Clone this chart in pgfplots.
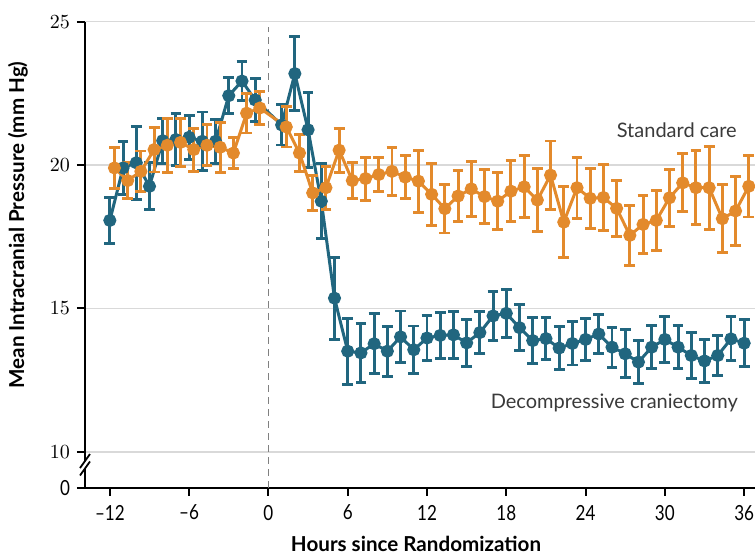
\documentclass[border=0pt]{standalone}
\usepackage{fontspec}
\setmainfont{Lato}
\newfontfamily\tickfont[FakeStretch=0.82]{Lato}
\usepackage{pgfplots}
\usepackage{pgfplotstable}
\pgfplotsset{compat=1.18}
\definecolor{tealc}{HTML}{21667F}
\definecolor{orngc}{HTML}{E38A2C}
\definecolor{txtc}{HTML}{3A3A3A}

\pgfplotstableread{
x y e
-12 18.07 0.80
-11 19.90 0.92
-10 20.08 1.27
-9 19.26 0.82
-8 20.85 0.78
-7 20.89 0.90
-6 20.97 0.77
-5 20.83 1.02
-4 20.83 0.76
-3 22.42 0.63
-2 22.93 0.68
-1 22.27 0.75
1 21.40 0.70
2 23.19 1.28
3 21.23 1.30
4 18.74 1.30
5 15.36 1.43
6 13.51 1.15
7 13.45 1.03
8 13.77 1.05
9 13.51 0.87
10 14.01 0.90
11 13.56 0.83
12 13.97 0.80
13 14.06 0.80
14 14.08 0.82
15 13.80 0.82
16 14.16 0.72
17 14.74 0.86
18 14.83 0.83
19 14.33 0.80
20 13.88 0.81
21 13.95 0.72
22 13.62 0.75
23 13.78 0.75
24 13.92 0.72
25 14.11 0.67
26 13.65 0.70
27 13.42 0.84
28 13.13 0.75
29 13.65 0.75
30 13.92 0.81
31 13.65 0.75
32 13.36 0.79
33 13.17 0.74
34 13.36 0.70
35 13.94 0.77
36 13.79 0.82
}\craniectomy

\pgfplotstableread{
x y e
-11.65 19.90 0.72
-10.65 19.46 0.64
-9.65 19.78 0.71
-8.65 20.54 0.78
-7.65 20.69 0.94
-6.65 20.79 0.83
-5.65 20.54 0.75
-4.65 20.69 0.72
-3.65 20.62 0.88
-2.65 20.42 0.55
-1.65 21.81 0.69
-0.65 21.99 0.57
1.35 21.33 0.70
2.35 20.42 0.65
3.35 19.03 0.60
4.35 19.21 0.75
5.35 20.52 0.77
6.35 19.46 0.62
7.35 19.53 0.75
8.35 19.67 0.59
9.35 19.78 0.83
10.35 19.58 0.74
11.35 19.44 1.08
12.35 18.98 1.08
13.35 18.48 0.85
14.35 18.92 0.90
15.35 19.17 0.95
16.35 18.90 0.95
17.35 18.74 1.00
18.35 19.09 1.06
19.35 19.24 1.08
20.35 18.78 1.11
21.35 19.65 1.19
22.35 18.01 1.24
23.35 19.21 1.07
24.35 18.84 1.05
25.35 18.87 1.14
26.35 18.49 0.98
27.35 17.55 1.04
28.35 17.93 1.02
29.35 18.07 1.04
30.35 18.86 1.00
31.35 19.38 1.01
32.35 19.21 1.29
33.35 19.21 1.45
34.35 18.13 1.18
35.35 18.40 1.20
36.35 19.26 1.07
}\standard

\begin{document}
\begin{tikzpicture}
\begin{axis}[
  scale only axis,
  width=335pt, height=233.15pt,
  xmin=-13.88, xmax=36.82, ymin=8.74, ymax=25,
  axis x line*=bottom, axis y line*=left,
  axis line style={line width=1.1pt, black},
  xtick={-12,-6,0,6,12,18,24,30,36},
  xticklabels={–12,–6,0,6,12,18,24,30,36},
  ytick={10,15,20,25},
  extra y ticks={8.74}, extra y tick labels={0},
  extra y tick style={grid=none},
  ymajorgrids,
  grid style={line width=0.8pt, gray!30},
  tick align=outside, major tick length=4pt,
  tick style={line width=1pt, black},
  ticklabel style={font=\tickfont\fontsize{10.4}{12}\selectfont, text=black},
  xticklabel style={yshift=-1pt},
  every axis y label/.style={at={(rel axis cs:-0.1,0.564)}, rotate=90, anchor=center,
     font=\bfseries\fontsize{10.3}{12}\selectfont},
  every axis x label/.style={at={(rel axis cs:0.494,-0.119)}, anchor=center, inner sep=0pt,
     font=\bfseries\fontsize{10.3}{12}\selectfont},
  ylabel={Mean Intracranial Pressure (mm Hg)},
  xlabel={Hours since Randomization},
  clip=false,
]
\coordinate (sw) at (rel axis cs:0,0);
\coordinate (ne) at (rel axis cs:1,1);
\draw[black!50, line width=0.9pt, dash pattern=on 3.5pt off 2.5pt] (axis cs:0,8.74) -- (axis cs:0,24.8);

\addplot[tealc, line width=1.5pt, mark=*, mark size=2.5pt, mark options={solid, fill=tealc},
  error bars/.cd, y dir=both, y explicit,
  error bar style={line width=1.45pt, tealc},
  error mark options={rotate=90, mark size=2.7pt, line width=1.45pt, tealc}]
  table[x=x, y=y, y error=e] {\craniectomy};

\addplot[orngc, line width=1.5pt, mark=*, mark size=2.5pt, mark options={solid, fill=orngc},
  error bars/.cd, y dir=both, y explicit,
  error bar style={line width=1.45pt, orngc},
  error mark options={rotate=90, mark size=2.7pt, line width=1.45pt, orngc}]
  table[x=x, y=y, y error=e] {\standard};

\node[text=txtc, font=\fontsize{10}{12}\selectfont] at (axis cs:30.9,21.23) {Standard care};
\node[text=txtc, font=\fontsize{10}{12}\selectfont] at (axis cs:26.17,11.72) {Decompressive craniectomy};

% axis break
\draw[white, line width=3pt] (axis cs:-13.88,9.42) -- (axis cs:-13.88,9.68);
\draw[black, line width=0.9pt] ([xshift=-2.5pt,yshift=-3.5pt]axis cs:-13.88,9.42) -- ([xshift=2.5pt,yshift=3.5pt]axis cs:-13.88,9.42);
\draw[black, line width=0.9pt] ([xshift=-2.5pt,yshift=-3.5pt]axis cs:-13.88,9.68) -- ([xshift=2.5pt,yshift=3.5pt]axis cs:-13.88,9.68);
\end{axis}
\pgfresetboundingbox
\path[use as bounding box] ([shift={(-42.5pt,-33pt)}]sw) rectangle ([shift={(0pt,10.85pt)}]ne);
\end{tikzpicture}
\end{document}
